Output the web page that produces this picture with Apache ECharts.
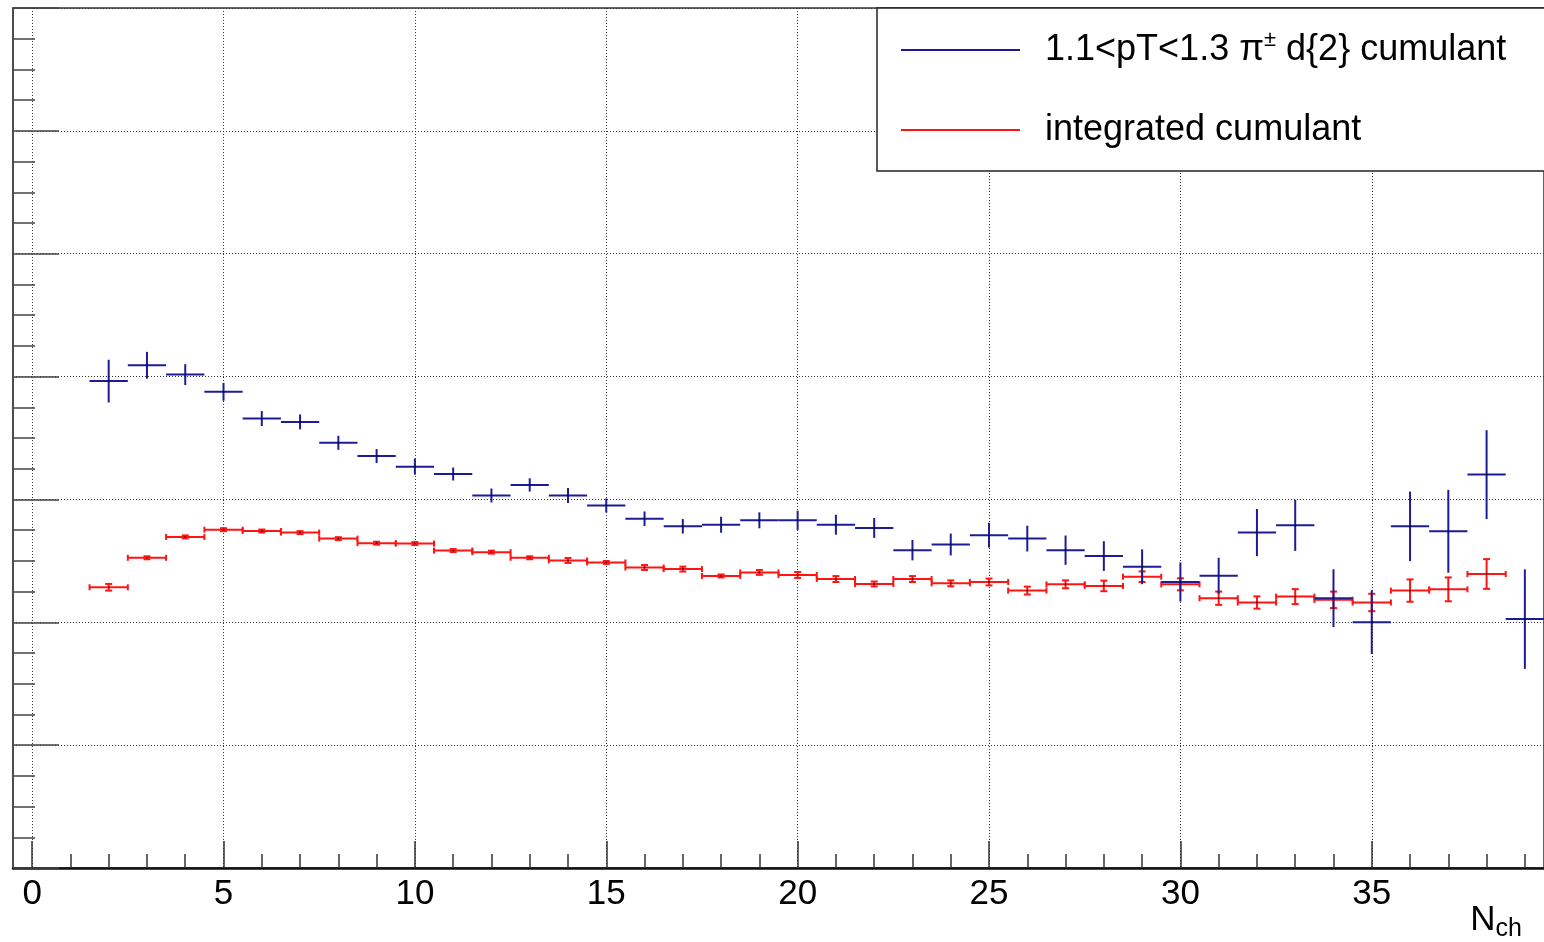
<!DOCTYPE html>
<html>
<head>
<meta charset="utf-8">
<script src="https://cdn.jsdelivr.net/npm/echarts@6/dist/echarts.min.js"></script>
<style>html,body{margin:0;padding:0;background:#fff}#c{width:1544px;height:942px}</style>
</head>
<body>
<div id="c"></div>
<script>
// ---- data ----
const nch = [2,3,4,5,6,7,8,9,10,11,12,13,14,15,16,17,18,19,20,21,22,23,24,25,26,27,28,29,30,31,32,33,34,35,36,37,38,39];
const blueVal = [0.03963,0.04092,0.04016,0.03876,0.03658,0.03631,0.03461,0.03353,0.03267,0.03207,0.03032,0.03118,0.03032,0.02951,0.02843,0.02781,0.02794,0.02830,0.02830,0.02794,0.02768,0.02587,0.02633,0.02709,0.02681,0.02587,0.02539,0.02452,0.02328,0.02379,0.02730,0.02789,0.02196,0.02001,0.02781,0.02741,0.03202,0.02026];
const blueErr = [0.00174,0.00109,0.00085,0.00073,0.00061,0.00061,0.00057,0.00057,0.00065,0.00053,0.00057,0.00054,0.00061,0.00057,0.00059,0.00059,0.00065,0.00065,0.00078,0.00081,0.00081,0.00083,0.00089,0.00101,0.00105,0.00119,0.00121,0.00142,0.00159,0.00146,0.00192,0.00208,0.00235,0.00259,0.00283,0.00337,0.00362,0.00405];
const redNch = [2,3,4,5,6,7,8,9,10,11,12,13,14,15,16,17,18,19,20,21,22,23,24,25,26,27,28,29,30,31,32,33,34,35,36,37,38];
const redVal = [0.02285,0.02525,0.02695,0.02754,0.02743,0.02730,0.02681,0.02644,0.02641,0.02584,0.02571,0.02525,0.02503,0.02487,0.02446,0.02433,0.02377,0.02406,0.02385,0.02352,0.02312,0.02352,0.02317,0.02328,0.02258,0.02309,0.02296,0.02371,0.02309,0.02196,0.02161,0.02209,0.02183,0.02161,0.02258,0.02268,0.02393];
const redErr = [0.00027,0.00012,0.00012,0.00012,0.00012,0.00012,0.00012,0.00012,0.00012,0.00012,0.00012,0.00012,0.00020,0.00012,0.00020,0.00020,0.00012,0.00020,0.00024,0.00024,0.00020,0.00024,0.00024,0.00028,0.00032,0.00032,0.00043,0.00043,0.00049,0.00054,0.00050,0.00061,0.00067,0.00071,0.00091,0.00097,0.00121];
const majorTicks = [0,5,10,15,20,25,30,35];
const minorTicks = [0,1,2,3,4,5,6,7,8,9,10,11,12,13,14,15,16,17,18,19,20,21,22,23,24,25,26,27,28,29,30,31,32,33,34,35,36,37,38,39];
const blueName = '1.1<pT<1.3 π{sup|±} d{2} cumulant';
const redName = 'integrated cumulant';

const BLUE = '#1c1c98';
const RED = '#ff1414';
const FONT = 'Liberation Sans';

function makeRender(color, caps) {
  return function (params, api) {
    const x = api.value(0), y = api.value(1), e = api.value(2);
    const c = api.coord([x, y]);
    const l = api.coord([x - 0.5, y])[0];
    const r = api.coord([x + 0.5, y])[0];
    const t = api.coord([x, y + e])[1];
    const b = api.coord([x, y - e])[1];
    const st = { stroke: color, lineWidth: 2 };
    const ch = [
      { type: 'line', shape: { x1: l, y1: c[1], x2: r, y2: c[1] }, style: st },
      { type: 'line', shape: { x1: c[0], y1: t, x2: c[0], y2: b }, style: st }
    ];
    if (caps) {
      ch.push({ type: 'line', shape: { x1: l, y1: c[1] - 3, x2: l, y2: c[1] + 3 }, style: st });
      ch.push({ type: 'line', shape: { x1: r, y1: c[1] - 3, x2: r, y2: c[1] + 3 }, style: st });
      ch.push({ type: 'line', shape: { x1: c[0] - 3.5, y1: t, x2: c[0] + 3.5, y2: t }, style: st });
      ch.push({ type: 'line', shape: { x1: c[0] - 3.5, y1: b, x2: c[0] + 3.5, y2: b }, style: st });
    }
    ch.push({ type: 'circle', shape: { cx: c[0], cy: c[1], r: 0.8 }, style: { fill: '#000' } });
    return { type: 'group', children: ch };
  };
}

const chart = echarts.init(document.getElementById('c'), null, { renderer: 'canvas' });
chart.setOption({
  animation: false,
  backgroundColor: '#fff',
  textStyle: { fontFamily: FONT },
  grid: { left: 13, top: 8, width: 1535, height: 865, show: true, borderColor: '#333', borderWidth: 1.5, backgroundColor: '#fff' },
  legend: {
    data: [blueName, redName],
    orient: 'vertical',
    left: 877, top: 8,
    icon: 'rect',
    itemWidth: 119, itemHeight: 2,
    itemGap: 40,
    padding: [21, 60, 21, 24],
    backgroundColor: '#fff',
    borderColor: '#222', borderWidth: 1.5, borderRadius: 0,
    selectedMode: false,
    textStyle: {
      fontSize: 36, color: '#000', fontFamily: FONT, lineHeight: 40, padding: [0, 0, 0, 20],
      rich: { sup: { fontSize: 22, color: '#000', fontFamily: FONT, padding: [0, 0, 20, 0] } }
    }
  },
  xAxis: [{
    type: 'value', min: -0.5, max: 39.5, gridIndex: 0, position: 'bottom',
    axisLine: { show: true, onZero: false, lineStyle: { color: '#111', width: 2.5 } },
    axisTick: { show: true, inside: true, length: 27, customValues: majorTicks, lineStyle: { color: '#333', width: 1.5 } },
    axisLabel: { show: true, customValues: majorTicks, fontSize: 35, margin: 9, color: '#000', fontFamily: FONT },
    splitLine: { show: true, lineStyle: { type: [1, 2], color: '#333', width: 1 } },
    name: '{n|N}{s|ch}', nameLocation: 'end', nameGap: -22,
    nameTextStyle: { align: 'right', verticalAlign: 'top', padding: [31, 0, 0, 0],
      rich: { n: { fontSize: 35, color: '#000', fontFamily: FONT }, s: { fontSize: 25, color: '#000', fontFamily: FONT, padding: [18, 0, 0, 0] } } }
  }, {
    type: 'value', min: -0.5, max: 39.5, gridIndex: 0, position: 'bottom',
    axisLine: { show: false, onZero: false },
    axisTick: { show: true, inside: true, length: 14, customValues: minorTicks, lineStyle: { color: '#333', width: 1.5 } },
    axisLabel: { show: false },
    splitLine: { show: false }
  }],
  yAxis: {
    type: 'value', min: 0, max: 0.07, interval: 0.01,
    axisLine: { show: true, onZero: false, lineStyle: { color: '#444', width: 1.5 } },
    axisTick: { show: true, inside: true, length: 46, lineStyle: { color: '#444', width: 1.5 } },
    minorTick: { show: true, splitNumber: 4, length: 22, lineStyle: { color: '#444', width: 1.5 } },
    axisLabel: { show: false },
    splitLine: { show: true, lineStyle: { type: [1, 2], color: '#333', width: 1 } }
  },
  series: [{
    name: blueName, type: 'custom', xAxisIndex: 0, yAxisIndex: 0, z: 3,
    itemStyle: { color: BLUE },
    renderItem: makeRender(BLUE, false),
    encode: { x: 0, y: 1 },
    data: nch.map((n, i) => [n, blueVal[i], blueErr[i]])
  }, {
    name: redName, type: 'custom', xAxisIndex: 0, yAxisIndex: 0, z: 2,
    itemStyle: { color: RED },
    renderItem: makeRender(RED, true),
    encode: { x: 0, y: 1 },
    data: redNch.map((n, i) => [n, redVal[i], redErr[i]])
  }]
});
</script>
</body>
</html>
